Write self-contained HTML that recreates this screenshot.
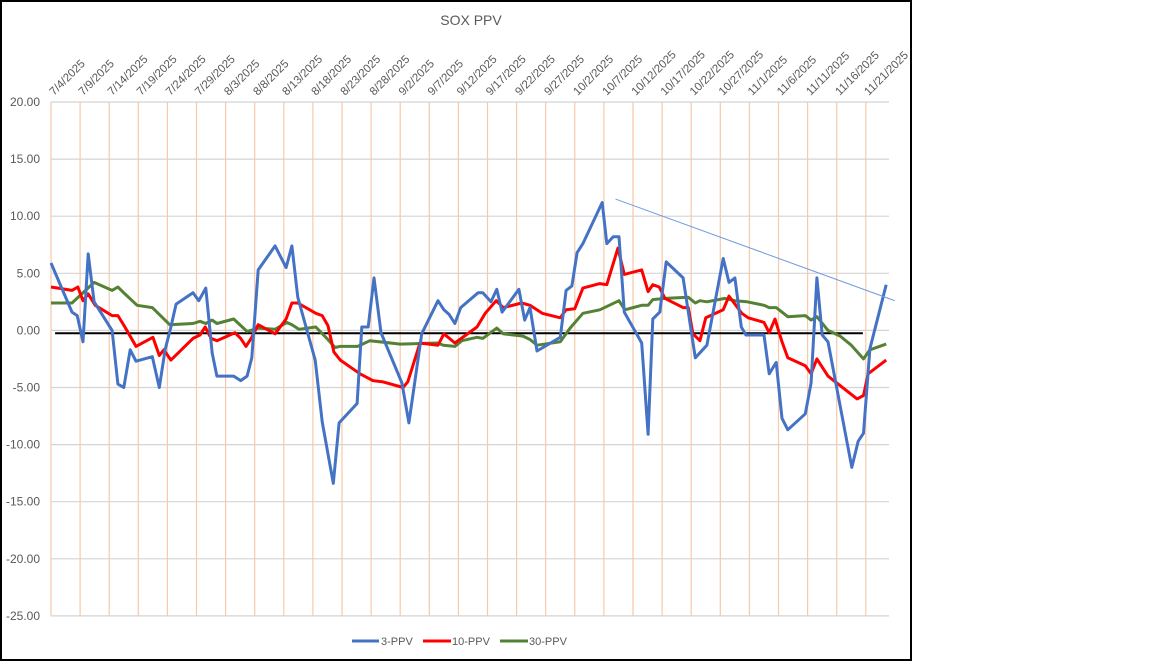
<!DOCTYPE html>
<html><head><meta charset="utf-8"><style>
html,body{margin:0;padding:0;background:#fff;}
svg{display:block;font-family:"Liberation Sans",sans-serif;}
</style></head><body>
<svg id="chart" width="1152" height="662" viewBox="0 0 1152 662" xmlns="http://www.w3.org/2000/svg">
<rect x="0" y="0" width="1152" height="662" fill="#fff"/>
<rect x="1" y="1" width="910" height="659" fill="none" stroke="#000" stroke-width="2"/>
<text x="471" y="25" text-anchor="middle" font-size="14" fill="#595959">SOX PPV</text>
<g id="grid"></g><g id="axes"></g><g id="series"></g>
<g font-size="11" fill="#595959">
<line x1="352" y1="641" x2="379" y2="641" stroke="#4472c4" stroke-width="3"/>
<text x="381" y="645">3-PPV</text>
<line x1="423" y1="641" x2="451" y2="641" stroke="#ff0000" stroke-width="3"/>
<text x="452" y="645">10-PPV</text>
<line x1="500" y1="641" x2="528" y2="641" stroke="#548235" stroke-width="3"/>
<text x="529" y="645">30-PPV</text>
</g>
</svg>
<script>
const tickDays = [0,5,10,15,20,25,30,35,40,45,50,55,60,65,70,75,80,85,90,95,100,105,110,115,120,125,130,135,140];
const tickLabels = ["7/4/2025","7/9/2025","7/14/2025","7/19/2025","7/24/2025","7/29/2025","8/3/2025","8/8/2025","8/13/2025","8/18/2025","8/23/2025","8/28/2025","9/2/2025","9/7/2025","9/12/2025","9/17/2025","9/22/2025","9/27/2025","10/2/2025","10/7/2025","10/12/2025","10/17/2025","10/22/2025","10/27/2025","11/1/2025","11/6/2025","11/11/2025","11/16/2025","11/21/2025"];
const yTicks = [20,15,10,5,0,-5,-10,-15,-20,-25];
const blueDays = [0,3.6,4.5,5.5,6.4,7.4,10.5,11.5,12.5,13.6,14.6,17.4,18.6,19.6,20.6,21.5,24.4,25.4,26.6,27.7,28.5,31.4,32.6,33.7,34.5,35.6,38.5,40.4,41.4,42.4,45.4,46.6,48.5,49.5,52.6,53.4,54.5,55.5,56.7,60.3,61.5,63.7,66.5,67.5,68.4,69.4,70.4,73.4,74.2,75.6,76.6,77.5,80.4,81.4,82.3,83.5,87.5,88.5,89.5,90.4,91.4,94.7,95.5,96.6,97.6,98.5,101.5,102.6,103.4,104.6,105.7,108.6,110.7,112.7,115.5,116.5,117.5,118.6,119.4,122.5,123.4,124.6,125.6,126.6,129.6,130.6,131.6,132.5,133.5,137.6,138.7,139.6,140.7,143.5];
const blueVals = [5.9,1.6,1.3,-1.0,6.7,2.5,0,-4.7,-5.0,-1.7,-2.7,-2.3,-5.0,-1.7,0.3,2.3,3.3,2.6,3.7,-2.0,-4.0,-4.0,-4.4,-4.0,-2.4,5.3,7.4,5.5,7.4,2.9,-2.6,-8.0,-13.4,-8.1,-6.4,0.3,0.3,4.6,-0.2,-4.6,-8.1,-0.3,2.6,1.8,1.4,0.6,2.0,3.3,3.3,2.5,3.6,1.6,3.6,0.9,2.0,-1.8,-0.6,3.5,3.9,6.8,7.6,11.2,7.6,8.2,8.2,1.6,-1.1,-9.1,1.0,1.6,6.0,4.6,-2.4,-1.3,6.3,4.2,4.6,0.3,-0.4,-0.4,-3.8,-2.8,-7.7,-8.7,-7.3,-4.6,4.6,-0.4,-1.0,-12.0,-9.7,-9.0,-1.6,4.0];
const redDays = [0,3.6,4.6,5.5,6.4,7.6,10.5,11.5,12.7,14.6,17.5,18.6,19.4,20.6,24.4,25.6,26.5,27.5,28.5,31.6,32.6,33.5,34.5,35.6,38.5,40.4,41.4,42.4,45.5,46.6,47.6,48.6,49.7,53.1,55.3,57.0,60.5,61.3,63.4,66.5,67.5,69.4,73.2,74.6,76.5,77.7,80.9,82.3,84.4,87.5,88.5,90.0,91.4,94.3,95.5,97.4,98.5,101.5,102.6,103.4,104.5,105.5,108.6,109.5,110.3,111.5,112.5,115.5,116.5,118.7,119.8,122.5,123.4,124.4,125.6,126.6,129.6,130.6,131.6,133.5,138.5,139.6,140.4,143.5];
const redVals = [3.8,3.5,3.8,2.6,3.2,2.2,1.3,1.3,0.3,-1.4,-0.6,-2.2,-1.7,-2.6,-0.7,-0.4,0.3,-0.7,-0.9,-0.2,-0.7,-1.4,-0.6,0.5,-0.3,1.0,2.4,2.4,1.5,1.3,0.4,-1.9,-2.6,-3.8,-4.4,-4.5,-5.0,-4.5,-1.1,-1.3,-0.3,-1.1,0.3,1.5,2.6,2.0,2.4,2.2,1.5,1.1,1.8,1.9,3.7,4.1,4.0,7.2,4.9,5.3,3.4,4.0,3.8,2.8,2.0,2.0,-0.3,-0.9,1.1,1.8,3.0,1.5,1.1,0.7,-0.2,1.0,-1.0,-2.4,-3.1,-3.8,-2.5,-4.0,-6.0,-5.7,-3.8,-2.6];
const greenDays = [0,3.6,7.4,10.5,11.5,12.7,14.8,17.4,20.4,24.4,25.6,26.6,27.7,28.5,31.4,33.7,35.6,38.5,40.5,41.4,42.6,45.5,47.4,48.8,49.7,52.7,54.8,60.0,66.5,67.4,69.4,70.6,73.2,74.2,76.6,77.7,81.1,82.3,83.5,87.5,89.2,91.4,94.3,97.6,98.6,101.5,102.6,103.4,105.5,109.5,110.7,111.5,112.7,115.8,117.5,119.6,122.5,123.4,124.6,126.6,129.6,130.6,131.6,133.5,135.6,137.5,139.6,140.7,143.5];
const greenVals = [2.4,2.4,4.2,3.5,3.8,3.2,2.2,2.0,0.5,0.6,0.8,0.6,0.9,0.6,1.0,-0.1,0.2,0.1,0.7,0.5,0.1,0.3,-0.7,-1.5,-1.4,-1.4,-0.9,-1.2,-1.1,-1.3,-1.4,-0.9,-0.6,-0.7,0.2,-0.3,-0.5,-0.8,-1.3,-1.0,0.2,1.5,1.8,2.6,1.8,2.2,2.2,2.7,2.8,2.9,2.4,2.6,2.5,2.8,2.6,2.5,2.2,2.0,2.0,1.2,1.3,0.9,1.2,0.0,-0.5,-1.3,-2.5,-1.7,-1.2];
const zeroLine = {fromDay:0.7, toDay:139.5, value:-0.25};
const trendLine = {fromDay:97.0, fromVal:11.5, toDay:145.0, toVal:2.6};

const NS = "http://www.w3.org/2000/svg";
const X0 = 51, PX_PER_DAY = 5.82, XR = 889;
const Y0 = 330.4, PX_PER_UNIT = 11.42;
function xs(d){ return X0 + d*PX_PER_DAY; }
function ys(v){ return Y0 - v*PX_PER_UNIT; }
function mk(tag, attrs, parent){ const e=document.createElementNS(NS,tag); for(const k in attrs) e.setAttribute(k,attrs[k]); parent.appendChild(e); return e; }
const grid=document.getElementById('grid'), axes=document.getElementById('axes'), series=document.getElementById('series');

yTicks.forEach(v=>{
  const l=mk('line',{x1:X0,x2:XR,y1:ys(v),y2:ys(v),stroke:'#d4d4d4','stroke-width':1.2},grid);
  
  
  const t=mk('text',{x:40,y:ys(v)+4,'text-anchor':'end','font-size':12,fill:'#595959'},axes);
  t.textContent=v.toFixed(2);
  
  
});
tickDays.forEach((d,i)=>{
  const x=xs(d);
  const l=mk('line',{x1:x,x2:x,y1:ys(20),y2:ys(-25),stroke:'#f7c9a8','stroke-width':1.2},grid);
  
  
  const t=mk('text',{x:0,y:0,'font-size':11.5,fill:'#595959',transform:`translate(${x+3},${96}) rotate(-45)`},axes);
  t.textContent=tickLabels[i];
  
  
});
function line(days, vals, color, w, name){
  const pts=days.map((d,i)=>xs(d).toFixed(1)+','+ys(vals[i]).toFixed(1)).join(' ');
  const p=mk('polyline',{points:pts,fill:'none',stroke:color,'stroke-width':w,'stroke-linejoin':'round'},series);
  
  
}
const z=mk('line',{x1:xs(zeroLine.fromDay),x2:xs(zeroLine.toDay),y1:ys(zeroLine.value),y2:ys(zeroLine.value),stroke:'#000','stroke-width':2},series);


line(greenDays, greenVals, '#548235', 3, 'series-30-ppv');
line(redDays, redVals, '#ff0000', 3, 'series-10-ppv');
line(blueDays, blueVals, '#4472c4', 3, 'series-3-ppv');
const tl=mk('line',{x1:xs(trendLine.fromDay),y1:ys(trendLine.fromVal),x2:xs(trendLine.toDay),y2:ys(trendLine.toVal),stroke:'#6f9ae0','stroke-width':1},series);


</script>
</body></html>
